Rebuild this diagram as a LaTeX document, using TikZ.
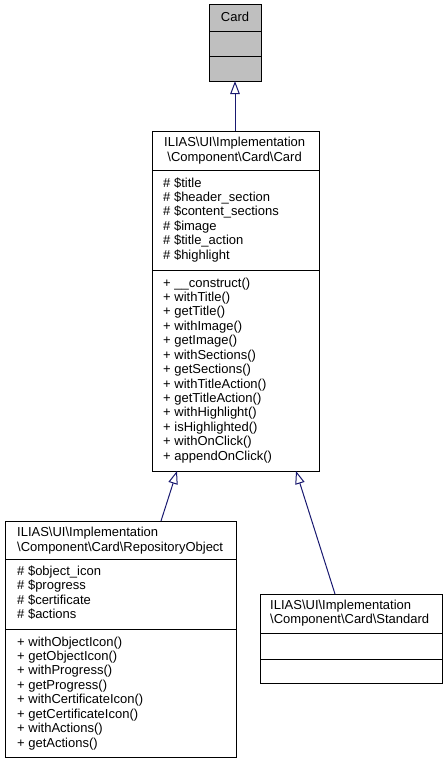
\documentclass[tikz,border=0pt]{standalone}
\usepackage{fontspec}
\setmainfont{Liberation Sans}
\usetikzlibrary{arrows.meta}
\newcommand{\bsl}{\textbackslash}
\definecolor{edgeblue}{HTML}{191970}
\definecolor{cardgray}{HTML}{BFBFBF}
\tikzset{
  classbox/.style={draw=black, line width=1bp, anchor=north west, inner sep=0pt, outer sep=0pt},
  txt/.style={inner sep=0pt, anchor=base west, font=\fontsize{13bp}{14.4bp}\selectfont},
  ctxt/.style={txt, anchor=base},
  divider/.style={draw=black, line width=1bp},
  inh/.style={draw=edgeblue, line width=1bp, -{Triangle[length=13bp,width=9.5bp,fill=white]}}
}
\begin{document}
\begin{tikzpicture}[x=1bp,y=-1bp]
\useasboundingbox (0,0) rectangle (447,764);
% ---- Card (base class)
\node[classbox, fill=cardgray, minimum width=52bp, minimum height=76bp] (card) at (209,5) {};
\draw[divider] (209,32) -- (261,32);
\draw[divider] (209,57) -- (261,57);
\node[ctxt] (cardt) at (235,21.5) {Card};
% ---- main class
\node[classbox, minimum width=167bp, minimum height=340bp] (main) at (152,131) {};
\draw[divider] (152,170) -- (319,170);
\draw[divider] (152,270) -- (319,270);
\node[txt] (mh1) at (164,146.5) {ILIAS\bsl UI\bsl Implementation};
\node[txt] (mh2) at (167.2,161) {\bsl Component\bsl Card\bsl Card};
\foreach \t [count=\i from 0] in {\# \$title, \# \$header\_section, \# \$content\_sections, \# \$image, \# \$title\_action, \# \$highlight}
  \node[txt] (ma\i) at (163,187+14.43*\i) {\t};
\foreach \t [count=\i from 0] in {+ \_\_construct(), + withTitle(), + getTitle(), + withImage(), + getImage(), + withSections(), + getSections(), + withTitleAction(), + getTitleAction(), + withHighlight(), + isHighlighted(), + withOnClick(), + appendOnClick()}
  \node[txt] (mm\i) at (163,287+14.43*\i) {\t};
% ---- RepositoryObject
\node[classbox, minimum width=231bp, minimum height=236bp] (repo) at (5,521) {};
\draw[divider] (5,559.5) -- (236,559.5);
\draw[divider] (5,629) -- (236,629);
\node[txt] (rh1) at (17,536.5) {ILIAS\bsl UI\bsl Implementation};
\node[txt] (rh2) at (17,551) {\bsl Component\bsl Card\bsl RepositoryObject};
\foreach \t [count=\i from 0] in {\# \$object\_icon, \# \$progress, \# \$certificate, \# \$actions}
  \node[txt] (ra\i) at (17,575.5+14.43*\i) {\t};
\foreach \t [count=\i from 0] in {+ withObjectIcon(), + getObjectIcon(), + withProgress(), + getProgress(), + withCertificateIcon(), + getCertificateIcon(), + withActions(), + getActions()}
  \node[txt] (rm\i) at (17,646+14.43*\i) {\t};
% ---- Standard
\node[classbox, minimum width=182bp, minimum height=89bp] (std) at (260,594) {};
\draw[divider] (260,633) -- (442,633);
\draw[divider] (260,659) -- (442,659);
\node[txt] (sh1) at (270,609.3) {ILIAS\bsl UI\bsl Implementation};
\node[txt] (sh2) at (270,623.7) {\bsl Component\bsl Card\bsl Standard};
% ---- inheritance edges
\coordinate (e1s) at (235,131);
\coordinate (e1t) at (235,81);
\coordinate (e2s) at (161,521);
\coordinate (e2t) at (177,471);
\coordinate (e3s) at (335,594);
\coordinate (e3t) at (296,471);
\draw[inh] (e1s) -- (e1t);
\draw[inh] (e2s) -- (e2t);
\draw[inh] (e3s) -- (e3t);
\end{tikzpicture}
\end{document}
